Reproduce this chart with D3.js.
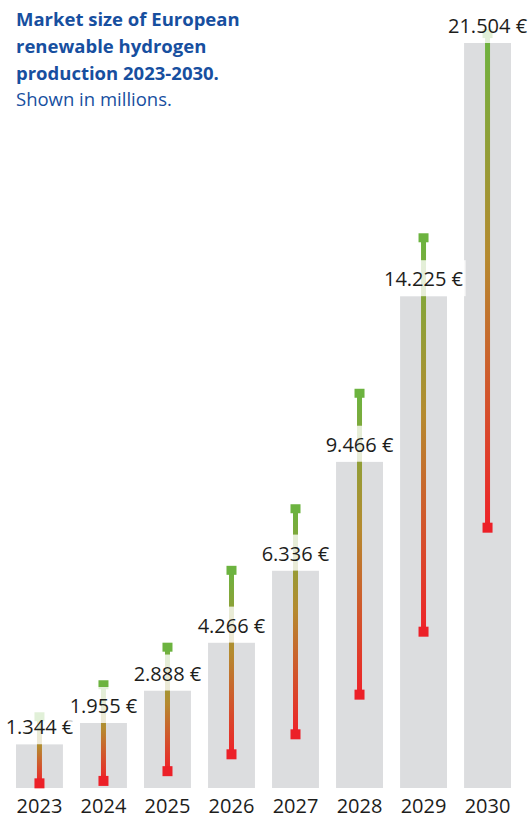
<!DOCTYPE html>
<html>
<head>
<meta charset="utf-8">
<script src="https://cdn.jsdelivr.net/npm/d3@7"></script>
<style>
  html, body { margin: 0; padding: 0; background: #ffffff; }
  svg { display: block; }
</style>
</head>
<body>
<svg id="chart" width="528" height="819"></svg>
<script>
// ---- data ----
const years = ["2023", "2024", "2025", "2026", "2027", "2028", "2029", "2030"];
const marketSize = [1344, 1955, 2888, 4266, 6336, 9466, 14225, 21504];
const rangeLow = [220, 290, 570, 1055, 1630, 2770, 4580, 7570];
const rangeHigh = [2120, 3040, 4120, 6330, 8100, 11420, 15890, 21760];
const valueLabels = ["1.344 €", "1.955 €", "2.888 €", "4.266 €", "6.336 €", "9.466 €", "14.225 €", "21.504 €"];
const titleLines = ["Market size of European", "renewable hydrogen", "production 2023-2030."];
const subtitle = "Shown in millions.";

const svg = d3.select("#chart");

const x = d3.scaleBand().domain(years).range([16, 511]).paddingInner(0.267).paddingOuter(0);
const y = d3.scaleLinear().domain([0, d3.max(marketSize)]).range([791, 43]);
const baseY = 788;

const data = years.map((yr, i) => ({
  year: yr, value: marketSize[i], low: rangeLow[i], high: rangeHigh[i], label: valueLabels[i]
}));

// gradient for range lines
const defs = svg.append("defs");
const grad = defs.append("linearGradient")
  .attr("id", "rangeGrad").attr("x1", 0).attr("y1", 0).attr("x2", 0).attr("y2", 1);
grad.append("stop").attr("offset", "0%").attr("stop-color", "#6cb33f");
grad.append("stop").attr("offset", "45%").attr("stop-color", "#b58a2f");
grad.append("stop").attr("offset", "100%").attr("stop-color", "#ee2229");

// bars
svg.append("g").selectAll("rect").data(data).join("rect")
  .attr("x", d => x(d.year))
  .attr("y", d => y(d.value))
  .attr("width", x.bandwidth())
  .attr("height", d => baseY - y(d.value))
  .attr("fill", "#dcdddf");

// range lines
const lineW = 5, sq = 10;
const rg = svg.append("g");
rg.selectAll("rect.rl").data(data).join("rect").attr("class", "rl")
  .attr("x", d => x(d.year) + x.bandwidth() / 2 - lineW / 2)
  .attr("y", d => y(d.high))
  .attr("width", lineW)
  .attr("height", d => y(d.low) - y(d.high))
  .attr("fill", "url(#rangeGrad)");
rg.selectAll("rect.hi").data(data).join("rect").attr("class", "hi")
  .attr("x", d => x(d.year) + x.bandwidth() / 2 - sq / 2)
  .attr("y", d => y(d.high) - sq / 2)
  .attr("width", sq).attr("height", sq - 1)
  .attr("fill", "#6cb33f");
rg.selectAll("rect.lo").data(data).join("rect").attr("class", "lo")
  .attr("x", d => x(d.year) + x.bandwidth() / 2 - sq / 2)
  .attr("y", d => y(d.low) - sq / 2)
  .attr("width", sq).attr("height", sq)
  .attr("fill", "#ec2028");

// value labels with translucent white backing
const lg = svg.append("g");
const labelG = lg.selectAll("g").data(data).join("g");
const boxH = 36;
labelG.each(function(d) {
  const g = d3.select(this);
  const cx = x(d.year) + x.bandwidth() / 2;
  const top = y(d.value);
  const bg = g.append("rect");
  const t = g.append("text")
    .attr("x", cx)
    .attr("y", top - 10)
    .attr("text-anchor", "middle")
    .attr("font-family", "'Open Sans', sans-serif")
    .attr("font-size", 20)
    .attr("fill", "#1d1d1b")
    .text(d.label);
  const bb = t.node().getBBox();
  bg.attr("x", bb.x - 2).attr("y", top - boxH)
    .attr("width", bb.width + 4).attr("height", boxH)
    .attr("fill", "#ffffff").attr("fill-opacity", 0.8);
});

// x axis labels
const xAxis = d3.axisBottom(x).tickSize(0).tickPadding(0);
const ax = svg.append("g").attr("transform", `translate(0, ${baseY})`).call(xAxis);
ax.select(".domain").remove();
ax.selectAll("text")
  .attr("dy", null)
  .attr("y", 25)
  .attr("font-family", "'Open Sans', sans-serif")
  .attr("font-size", 20)
  .attr("fill", "#1d1d1b");

// title
const tg = svg.append("g");
titleLines.forEach((ln, i) => {
  tg.append("text")
    .attr("x", 16).attr("y", 26 + i * 27)
    .attr("font-family", "'Open Sans', sans-serif")
    .attr("font-weight", 700)
    .attr("font-size", 18.5)
    .attr("fill", "#174f9f")
    .text(ln);
});
tg.append("text")
  .attr("x", 16).attr("y", 106)
  .attr("font-family", "'Open Sans', sans-serif")
  .attr("font-size", 18.5)
  .attr("fill", "#174f9f")
  .text(subtitle);
</script>
</body>
</html>
